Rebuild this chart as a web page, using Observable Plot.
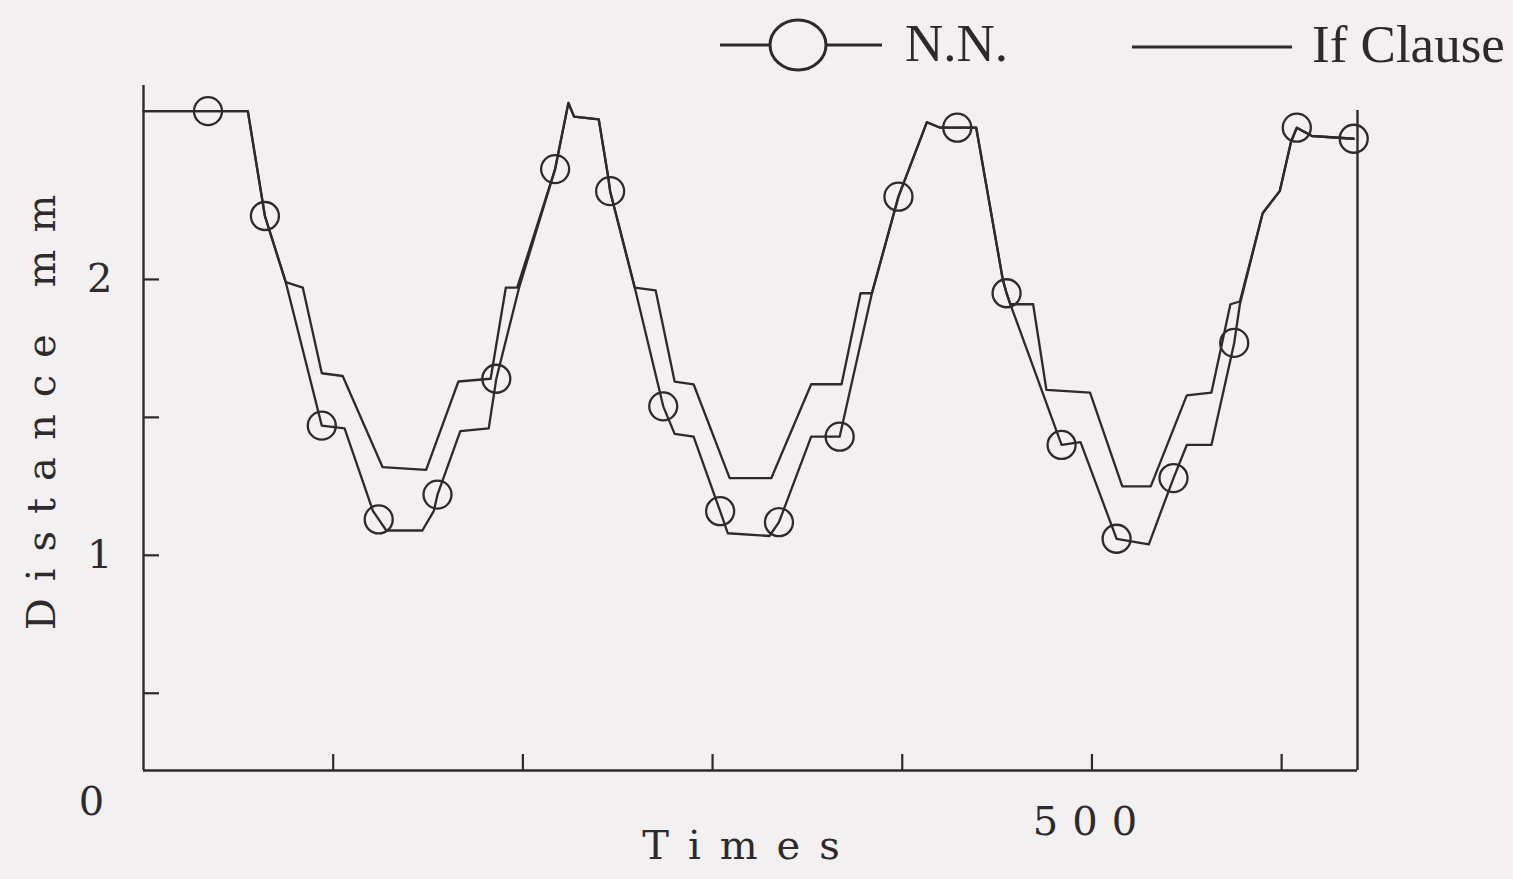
<!DOCTYPE html>
<html>
<head>
<meta charset="utf-8">
<script src="https://cdn.jsdelivr.net/npm/d3@7"></script>
<script src="https://cdn.jsdelivr.net/npm/@observablehq/plot@0.6"></script>
<style>
  body { margin: 0; background: #f2f0f1; }
  #legend { display: block; }
  #chart svg { display: block; }
  g[aria-label="text"] text { letter-spacing: 17px; }
  g[aria-label="x-axis label"] text { letter-spacing: 19px; }
  g[aria-label="x-axis tick label"] text { letter-spacing: 14px; }
</style>
</head>
<body>
<svg id="legend" width="1513" height="75" xmlns="http://www.w3.org/2000/svg">
  <line x1="720" x2="882" y1="45" y2="45" stroke="#2e2a2b" stroke-width="3"/>
  <ellipse cx="798" cy="45" rx="28" ry="25" fill="#f2f0f1" stroke="#2e2a2b" stroke-width="3"/>
  <text x="905" y="61" font-family="Liberation Serif" font-size="53" fill="#2e2a2b">N.N.</text>
  <line x1="1132" x2="1292" y1="47" y2="47" stroke="#2e2a2b" stroke-width="3"/>
  <text x="1312" y="62" font-family="Liberation Serif" font-size="53" fill="#2e2a2b">If Clause</text>
</svg>
<div id="chart"></div>
<script>
// ---- data ----
const nnTimes = [0, 34, 55, 64, 75, 94, 106, 121, 124, 128, 147, 153, 155, 167, 182, 186, 198, 217, 224, 227, 240, 245, 246, 259, 274, 280, 290, 304, 308, 330, 335, 352, 367, 384, 398, 413, 420, 429, 439, 453, 455, 457, 484, 494, 513, 530, 543, 550, 563, 575, 578, 590, 599, 605, 608, 616, 638];
const nnDist  = [2.61, 2.61, 2.61, 2.23, 1.99, 1.47, 1.46, 1.16, 1.13, 1.09, 1.09, 1.16, 1.22, 1.45, 1.46, 1.64, 1.97, 2.40, 2.64, 2.59, 2.58, 2.37, 2.32, 1.97, 1.54, 1.44, 1.43, 1.16, 1.08, 1.07, 1.12, 1.43, 1.43, 1.95, 2.30, 2.57, 2.55, 2.55, 2.55, 2.00, 1.95, 1.91, 1.40, 1.41, 1.06, 1.04, 1.28, 1.40, 1.40, 1.77, 1.91, 2.24, 2.32, 2.50, 2.55, 2.52, 2.51];

const ifTimes = [0, 55, 64, 75, 84, 94, 105, 126, 149, 166, 183, 191, 197, 217, 224, 227, 240, 245, 246, 259, 270, 280, 290, 309, 331, 352, 368, 378, 384, 398, 413, 420, 439, 453, 455, 457, 469, 476, 499, 516, 531, 550, 563, 573, 578, 590, 599, 605, 608, 616, 638];
const ifDist  = [2.61, 2.61, 2.23, 1.99, 1.97, 1.66, 1.65, 1.32, 1.31, 1.63, 1.64, 1.97, 1.97, 2.40, 2.64, 2.59, 2.58, 2.37, 2.32, 1.97, 1.96, 1.63, 1.62, 1.28, 1.28, 1.62, 1.62, 1.95, 1.95, 2.30, 2.57, 2.55, 2.55, 2.00, 1.95, 1.91, 1.91, 1.60, 1.59, 1.25, 1.25, 1.58, 1.59, 1.91, 1.92, 2.24, 2.32, 2.50, 2.55, 2.52, 2.51];

const markerTimes = [34, 64, 94, 124, 155, 186, 217, 246, 274, 304, 335, 367, 398, 429, 455, 484, 513, 543, 575, 608, 638];
const markerDist  = [2.61, 2.23, 1.47, 1.13, 1.22, 1.64, 2.40, 2.32, 1.54, 1.16, 1.12, 1.43, 2.30, 2.55, 1.95, 1.40, 1.06, 1.28, 1.77, 2.55, 2.51];

const xTickMarks = [100, 200, 300, 400, 500, 600];
const xTickLabels = [500];
const originLabel = [0];
const yTickMarks = [0.5, 1, 1.5, 2];
const yTickLabels = [1, 2];
const xDomain = [0, 640];
const yDomain = [0.22, 2.703];
const yTitle = ["Distance mm"];

// ---- build rows ----
const nnRows = nnTimes.map((t, i) => ({t, d: nnDist[i]}));
const ifRows = ifTimes.map((t, i) => ({t, d: ifDist[i]}));
const markerRows = markerTimes.map((t, i) => ({t, d: markerDist[i]}));

const W = 1513, H = 804;
const mL = 143, mR = 156, mT = 10, mB = 109;
const plotW = W - mL - mR, plotH = H - mT - mB;
const ink = "#2e2a2b";
const tickLen = 16;

const chart = Plot.plot({
  width: W, height: H,
  marginLeft: mL, marginRight: mR, marginTop: mT, marginBottom: mB,
  x: {domain: xDomain, axis: null},
  y: {domain: yDomain, axis: null},
  style: {background: "transparent", color: ink, fontFamily: "DejaVu Serif", overflow: "visible"},
  marks: [
    // frame: left axis, bottom axis, right edge
    Plot.ruleX([xDomain[0]], {stroke: ink, strokeWidth: 2.4}),
    Plot.ruleY([yDomain[0]], {stroke: ink, strokeWidth: 2.4}),
    Plot.ruleX([xDomain[1]], {stroke: ink, strokeWidth: 2.4, insetTop: 25}),
    // inward ticks
    Plot.ruleY(yTickMarks, {y: d => d, stroke: ink, strokeWidth: 2.2, insetRight: plotW - tickLen}),
    Plot.ruleX(xTickMarks, {x: d => d, stroke: ink, strokeWidth: 2.2, insetTop: plotH - tickLen}),
    // series
    Plot.line(ifRows, {x: "t", y: "d", stroke: ink, strokeWidth: 2.3}),
    Plot.line(nnRows, {x: "t", y: "d", stroke: ink, strokeWidth: 2.3}),
    Plot.dot(markerRows, {x: "t", y: "d", r: 14, stroke: ink, strokeWidth: 2.3, fill: "none"}),
    // axes labels
    Plot.axisY(yTickLabels, {tickSize: 0, tickPadding: 31, fontSize: 40, tickFormat: d => String(d), label: null}),
    Plot.text(yTitle, {text: d => d, frameAnchor: "left", textAnchor: "middle", rotate: -90, dx: -101, dy: -24, fontSize: 40, lineAnchor: "middle", fill: ink}),
    Plot.axisX(xTickLabels, {tickSize: 0, tickPadding: 36, fontSize: 40, tickFormat: d => String(d), label: "Times", labelAnchor: "center", labelOffset: 88, labelArrow: false}),
    Plot.axisX(originLabel, {tickSize: 0, tickPadding: 16, dx: -45, fontSize: 40, tickFormat: d => String(d), label: null})
  ]
});
document.getElementById("chart").appendChild(chart);
</script>
</body>
</html>
